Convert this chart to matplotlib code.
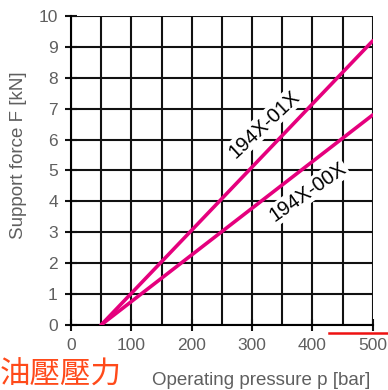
import matplotlib
matplotlib.use('Agg')
import matplotlib.pyplot as plt
import numpy as np

pressure = [50, 500]
force_01x = [0, 9.2]
force_00x = [0, 6.8]
x_ticks = [0, 100, 200, 300, 400, 500]
y_ticks = list(range(0, 11))

pink = '#e5007d'
grey = '#5f5f5f'
plt.rcParams['font.family'] = ['Liberation Sans', 'DejaVu Sans']

fig = plt.figure(figsize=(3.88, 3.90), dpi=100)
ax = fig.add_axes([0.183, 0.167, 0.778, 0.792])

ax.set_xlim(0, 500)
ax.set_ylim(0, 10)
ax.set_xticks(np.arange(0, 501, 50), minor=True)
ax.set_xticks(x_ticks)
ax.set_yticks(y_ticks)
ax.grid(True, which='both', color='#111111', linewidth=1.5)
for s in ax.spines.values():
    s.set_visible(False)
ax.spines['left'].set_visible(True)
ax.spines['bottom'].set_visible(True)
ax.spines['left'].set_linewidth(1.5)
ax.spines['bottom'].set_linewidth(1.5)
ax.tick_params(which='both', direction='inout', length=9, width=1.5, color='#111111',
               labelcolor=grey, labelsize=12.5, pad=5)
ax.tick_params(which='minor', length=0)
ax.set_axisbelow(True)

ax.plot(pressure, force_01x, color=pink, linewidth=2.6, solid_capstyle='round', zorder=3)
ax.plot(pressure, force_00x, color=pink, linewidth=2.6, solid_capstyle='round', zorder=3)

box = dict(facecolor='white', edgecolor='none', pad=1.0)
ax.text(320, 6.5, '194X-01X', rotation=43, ha='center', va='center', fontsize=14.5,
        color='#000000', bbox=box, zorder=4)
ax.text(392, 4.3, '194X-00X', rotation=35, ha='center', va='center', fontsize=14.5,
        color='#000000', bbox=box, zorder=4)

ax.set_xlabel('Operating pressure p [bar]', color=grey, fontsize=13.5)
ax.xaxis.set_label_coords(0.63, -0.152)
ax.set_ylabel('Support force F [kN]', color=grey, fontsize=13.5)
ax.yaxis.set_label_coords(-0.145, 0.55)

# roter Markierungsstrich unten rechts
ax.plot([0.855, 1.1], [-0.026, -0.026], transform=ax.transAxes, color='#ee1111',
        linewidth=1.8, clip_on=False)

fig.text(0.0, 0.015, '油壓壓力', color='#ff4a1a', fontsize=22,
         family=['Noto Sans CJK TC', 'DejaVu Sans'])

fig.savefig('out.png', dpi=100)
